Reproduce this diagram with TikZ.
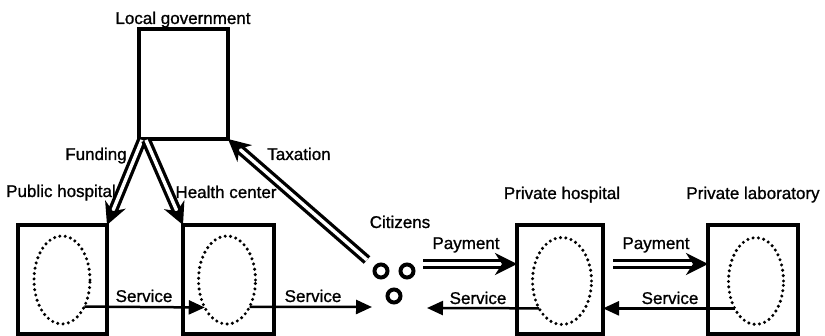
\documentclass[tikz,border=0pt]{standalone}
\usepackage{fontspec}
\setmainfont{Liberation Sans}[FakeBold=1]
\usetikzlibrary{arrows.meta,shapes.geometric}
\begin{document}
\begin{tikzpicture}[x=1pt,y=-1pt,
  box/.style={draw, line width=3.4pt, inner sep=0pt, outer sep=0pt, minimum height=109pt},
  dotell/.style={draw, ellipse, line width=3.4pt, dash pattern=on 0pt off 5.4pt, line cap=round, inner sep=0pt, outer sep=0pt},
  cit/.style={draw, circle, line width=4pt, minimum size=13pt, inner sep=0pt},
  lbl/.style={anchor=base, font=\fontsize{17}{20}\selectfont, inner sep=0pt},
  dbl/.style={double, line width=3.3pt, double distance=3.4pt, -{Stealth[length=22pt,width=22pt,inset=7pt]}},
  sgl/.style={line width=2.5pt, -{Triangle[length=16pt,width=14pt]}}]
\useasboundingbox (0,0) rectangle (825,336);
% boxes
\node[box, minimum width=89pt, minimum height=110pt] (lg) at (183.5,84) {};
\node[box, minimum width=89pt] (ph) at (62.5,279.5) {};
\node[box, minimum width=91pt] (hc) at (228.5,279.5) {};
\node[box, minimum width=86pt] (prh) at (560,279.5) {};
\node[box, minimum width=90pt] (prl) at (753,279.5) {};
% ellipses
\node[dotell, minimum width=56pt, minimum height=88pt] (e1) at (62,280) {};
\node[dotell, minimum width=57pt, minimum height=88pt] (e2) at (227,280) {};
\node[dotell, minimum width=59pt, minimum height=87pt] (e3) at (562,281) {};
\node[dotell, minimum width=55pt, minimum height=87pt] (e4) at (756,281) {};
% citizens
\node[cit] (c1) at (381,271) {};
\node[cit] (c2) at (407,271) {};
\node[cit] (c3) at (394,296) {};
% labels
\node[lbl] (tlg) at (183,24) {Local government};
\node[lbl] (tfund) at (96,160) {Funding};
\node[lbl] (ttax) at (299,160) {Taxation};
\node[lbl] (tph) at (61,197) {Public hospital};
\node[lbl] (thc) at (226,198) {Health center};
\node[lbl] (tcit) at (400,228) {Citizens};
\node[lbl] (tprh) at (562,199) {Private hospital};
\node[lbl] (tprl) at (753,199) {Private laboratory};
\node[lbl] (tpay1) at (466,249) {Payment};
\node[lbl] (tpay2) at (656,249) {Payment};
\node[lbl] (ts1) at (144,302) {Service};
\node[lbl] (ts2) at (313,302) {Service};
\node[lbl] (ts3) at (478,304) {Service};
\node[lbl] (ts4) at (670,304) {Service};
% coordinates
\coordinate (f1) at (142,140);
\coordinate (f2) at (146,140);
\coordinate (tax) at (367,260);
\coordinate (pay1) at (423,264);
\coordinate (pay2) at (613,264);
\coordinate (s2end) at (372,307);
\coordinate (s3end) at (427,308);
% double arrows
\draw[dbl] (f1) -- (ph.north east);
\draw[dbl] (f2) -- (hc.north west);
\draw[dbl] (tax) -- (lg.south east);
\draw[dbl] (pay1) -- (pay1 -| prh.west);
\draw[dbl] (pay2) -- (pay2 -| prl.west);
% service arrows
\draw[sgl] (e1.-50.7) -- (e2.-129.3);
\draw[sgl] (e2.-50.7) -- (s2end);
\draw[sgl] (e3.-130.5) -- (s3end);
\draw[sgl] (e4.-128.7) -- (e4.-128.7 -| prh.east);
\end{tikzpicture}
\end{document}
